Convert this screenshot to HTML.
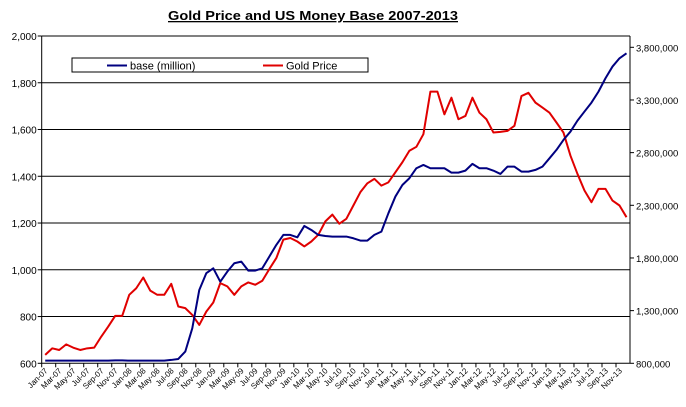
<!DOCTYPE html>
<html><head><meta charset="utf-8"><style>
body{margin:0;background:#fff;font-family:"Liberation Sans",Arial,sans-serif}
svg{display:block}
</style></head><body>
<svg id="chart" width="686" height="407">
<text x="313" y="20" text-anchor="middle" font-size="13" font-weight="bold" text-decoration="underline" textLength="290" lengthAdjust="spacingAndGlyphs">Gold Price and US Money Base 2007-2013</text>
<g id="grid"></g><g id="axes"></g><g id="series"></g>
<g>
<rect x="72" y="58" width="296" height="14" fill="#fff" stroke="#000"/>
<line x1="107" y1="65.5" x2="127" y2="65.5" stroke="#000080" stroke-width="2"/>
<text x="130" y="69.5" font-size="11">base (million)</text>
<line x1="263" y1="65.5" x2="283" y2="65.5" stroke="#e00000" stroke-width="2"/>
<text x="286" y="69.5" font-size="11">Gold Price</text>
</g>
</svg>
<script>
const months=["Jan","Feb","Mar","Apr","May","Jun","Jul","Aug","Sep","Oct","Nov","Dec"];
const years=["07","08","09","10","11","12","13"];
const gold=[636,664,657,681,667,657,664,667,714,757,803,803,893,921,967,911,893,893,940,843,836,807,764,821,860,943,929,893,929,946,936,953,1003,1050,1129,1136,1121,1100,1121,1150,1207,1236,1197,1218,1275,1332,1370,1389,1360,1374,1417,1460,1509,1526,1580,1762,1762,1665,1736,1644,1658,1736,1672,1644,1587,1590,1594,1616,1743,1757,1715,1694,1672,1630,1587,1488,1410,1339,1289,1346,1346,1296,1275,1225];
const base=[825,825,825,825,825,825,825,825,825,825,828,828,825,825,825,825,825,825,832,841,911,1132,1496,1655,1702,1575,1670,1750,1765,1680,1680,1702,1813,1924,2019,2019,1996,2104,2066,2019,2009,2003,2003,2003,1987,1965,1965,2019,2050,2224,2383,2493,2557,2652,2683,2652,2652,2652,2610,2610,2629,2693,2652,2652,2629,2598,2667,2667,2620,2620,2636,2667,2746,2826,2921,3000,3104,3190,3275,3379,3506,3617,3696,3743].map(v=>v*1000);
const leftTicks=[600,800,1000,1200,1400,1600,1800,2000];
const rightTicks=[800000,1300000,1800000,2300000,2800000,3300000,3800000];
const categories=[];years.forEach(y=>months.forEach(m=>categories.push(m+"-"+y)));
const NS="http://www.w3.org/2000/svg";
const L=41.7,R=630,T=36,B=363.3;
const step=(R-L)/categories.length;
const xPos=i=>L+step*(i+0.5);
const yL=v=>B-(v-600)/1400*(B-T);
const yR=v=>B-(v-800000)*(316/3000000);
function mk(tag,attrs,parent){const e=document.createElementNS(NS,tag);for(const k in attrs)e.setAttribute(k,attrs[k]);parent.appendChild(e);return e;}
const grid=document.getElementById('grid'),axes=document.getElementById('axes'),ser=document.getElementById('series');
leftTicks.forEach(v=>{const y=yL(v);
 if(v>600&&v<2000){const g=mk('line',{x1:L,x2:R,y1:y,y2:y,stroke:'#000','stroke-width':1},grid);
 
 }
 mk('line',{x1:L-4,x2:L,y1:y,y2:y,stroke:'#000'},axes);
 const t=mk('text',{x:L-5,y:y+4,'text-anchor':'end','font-size':10},axes);t.textContent=v.toLocaleString('en-US');
 
 
});
rightTicks.forEach(v=>{const y=yR(v);
 mk('line',{x1:R,x2:R+4,y1:y,y2:y,stroke:'#000'},axes);
 const t=mk('text',{x:R+6,y:y+4,'font-size':9.5},axes);t.textContent=v.toLocaleString('en-US');
 
 
});
mk('line',{x1:L,x2:R,y1:T,y2:T,stroke:'#000'},axes);
mk('line',{x1:L,x2:L,y1:T,y2:B,stroke:'#000'},axes);
mk('line',{x1:R,x2:R,y1:T,y2:B,stroke:'#000'},axes);
mk('line',{x1:L,x2:R,y1:B,y2:B,stroke:'#000'},axes);
categories.forEach((c,i)=>{if(i%2)return;const x=L+step*i;
 mk('line',{x1:x,x2:x,y1:B,y2:B+4,stroke:'#000'},axes);
 const tx=xPos(i)+3,ty=B+8;
 const t=mk('text',{x:tx,y:ty,'text-anchor':'end','font-size':8,transform:`rotate(-45 ${tx} ${ty})`},axes);t.textContent=c;
 
 
});
const gp=mk('polyline',{points:gold.map((v,i)=>xPos(i)+','+yL(v)).join(' '),fill:'none',stroke:'#e00000','stroke-width':2,'stroke-linejoin':'round'},ser);


const bp=mk('polyline',{points:base.map((v,i)=>xPos(i)+','+yR(v)).join(' '),fill:'none',stroke:'#000080','stroke-width':2,'stroke-linejoin':'round'},ser);


</script>
</body></html>
